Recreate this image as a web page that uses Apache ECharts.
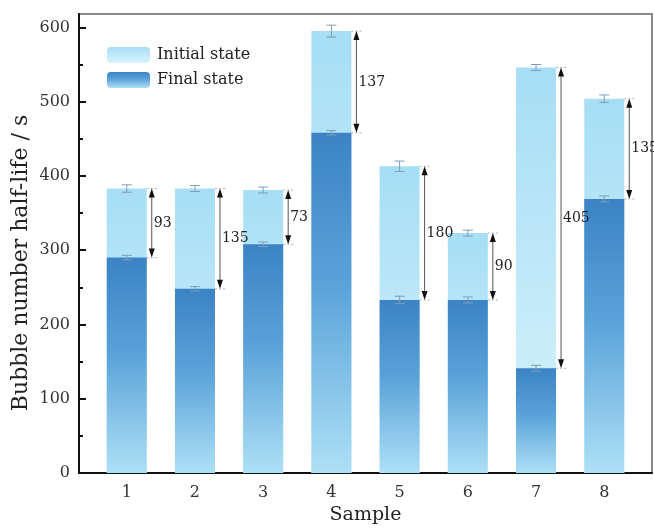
<!DOCTYPE html>
<html>
<head>
<meta charset="utf-8">
<script src="https://cdn.jsdelivr.net/npm/echarts@6/dist/echarts.min.js"></script>
<style>html,body{margin:0;padding:0;background:#fff}#c{width:654px;height:530px}</style>
</head>
<body>
<div id="c"></div>
<script>
var samples = [1, 2, 3, 4, 5, 6, 7, 8];
var initialState = [383, 383, 381, 595, 413, 323, 546, 504];
var finalState = [290, 248, 308, 458, 233, 233, 141, 369];
var initialErr = [5, 4, 4, 8, 7, 4, 4, 5];
var finalErr = [3, 3, 3, 3, 5, 4, 4, 4];
var differences = [93, 135, 73, 137, 180, 90, 405, 135];
var yTicks = [0, 100, 200, 300, 400, 500, 600];
var yMinorTicks = [50, 150, 250, 350, 450, 550];

var FONT = 'DejaVu Serif';
var chart = echarts.init(document.getElementById('c'), null, {renderer: 'canvas'});

var initialColor = new echarts.graphic.LinearGradient(0, 0, 0, 1, [
  {offset: 0, color: '#a6def5'}, {offset: 1, color: '#d8f3fc'}]);
var finalColor = new echarts.graphic.LinearGradient(0, 0, 0, 1, [
  {offset: 0, color: '#3b83c4'}, {offset: 0.45, color: '#5aa3d9'}, {offset: 1, color: '#aee0f6'}]);

function errData(vals, errs) {
  return samples.map(function (s, i) { return [s, vals[i], errs[i]]; });
}
function renderErr(params, api) {
  var x = api.value(0), v = api.value(1), e = api.value(2);
  var top = api.coord([x, v + e]), bot = api.coord([x, v - e]);
  var st = {stroke: '#7f9fb6', lineWidth: 1};
  return {type: 'group', children: [
    {type: 'line', shape: {x1: top[0], y1: top[1], x2: bot[0], y2: bot[1]}, style: st},
    {type: 'line', shape: {x1: top[0] - 5, y1: top[1], x2: top[0] + 5, y2: top[1]}, style: st},
    {type: 'line', shape: {x1: bot[0] - 5, y1: bot[1], x2: bot[0] + 5, y2: bot[1]}, style: st}
  ]};
}
function renderArrow(params, api) {
  var x = api.value(0), lo = api.value(1), hi = api.value(2), lab = api.value(3);
  var pH = api.coord([x, hi]), pL = api.coord([x, lo]);
  var ax = pH[0] + 25;
  var yH = pH[1], yL = pL[1];
  var dash = {stroke: '#b0b0b0', lineWidth: 1, lineDash: [2, 2]};
  return {type: 'group', children: [
    {type: 'line', shape: {x1: pH[0] + 20, y1: yH, x2: ax + 6, y2: yH}, style: dash},
    {type: 'line', shape: {x1: pL[0] + 20, y1: yL, x2: ax + 6, y2: yL}, style: dash},
    {type: 'line', shape: {x1: ax, y1: yH + 6, x2: ax, y2: yL - 6}, style: {stroke: '#555', lineWidth: 1}},
    {type: 'polygon', shape: {points: [[ax, yH], [ax - 3, yH + 9], [ax + 3, yH + 9]]}, style: {fill: '#111'}},
    {type: 'polygon', shape: {points: [[ax, yL], [ax - 3, yL - 9], [ax + 3, yL - 9]]}, style: {fill: '#111'}},
    {type: 'text', style: {text: String(lab), x: ax + 2, y: (yH + yL) / 2, align: 'left', verticalAlign: 'middle',
      font: '14px "' + FONT + '"', fill: '#222'}}
  ]};
}

var option = {
  animation: false,
  backgroundColor: '#fff',
  grid: {left: 79, right: 2, top: 14, bottom: 57, show: true, borderColor: '#8a8a8a', borderWidth: 2, backgroundColor: 'transparent'},
  legend: {
    left: 102, top: 42, orient: 'vertical', itemWidth: 43, itemHeight: 16, itemGap: 9,
    data: ['Initial state', 'Final state'],
    textStyle: {fontFamily: FONT, fontSize: 16, color: '#222', padding: [0, 0, 0, 2], lineHeight: 16}
  },
  xAxis: {
    type: 'value', min: 0.3, max: 8.7,
    name: 'Sample', nameLocation: 'middle', nameGap: 33,
    nameTextStyle: {fontFamily: FONT, fontSize: 19, color: '#222'},
    axisLine: {show: true, onZero: false, lineStyle: {color: '#111', width: 2}},
    axisTick: {show: true, inside: true, length: 6, customValues: samples, lineStyle: {color: '#111', width: 2}},
    axisLabel: {customValues: samples, margin: 12, fontFamily: FONT, fontSize: 16, color: '#333'},
    splitLine: {show: false}
  },
  yAxis: [{
    type: 'value', min: 0, max: 618,
    axisLine: {show: true, lineStyle: {color: '#111', width: 2}},
    axisTick: {show: true, inside: true, length: 7, customValues: yTicks, lineStyle: {color: '#111', width: 2}},
    axisLabel: {customValues: yTicks, margin: 9, fontFamily: FONT, fontSize: 16, color: '#333'},
    splitLine: {show: false}
  }, {
    type: 'value', min: 0, max: 618, position: 'left',
    axisLine: {show: false},
    axisTick: {show: true, inside: true, length: 4, customValues: yMinorTicks, lineStyle: {color: '#111', width: 2}},
    axisLabel: {show: false},
    splitLine: {show: false}
  }],
  graphic: [{
    type: 'text', x: 21, y: 263, rotation: Math.PI / 2,
    style: {text: 'Bubble number half-life / s', font: '22px "' + FONT + '"', fill: '#222', align: 'center', verticalAlign: 'middle'}
  }],
  series: [
    {name: 'Initial state', type: 'bar', barWidth: 40, itemStyle: {color: initialColor},
      data: samples.map(function (s, i) { return [s, initialState[i]]; }), z: 2},
    {name: 'Final state', type: 'bar', barWidth: 40, barGap: '-100%', itemStyle: {color: finalColor},
      data: samples.map(function (s, i) { return [s, finalState[i]]; }), z: 3},
    {type: 'custom', renderItem: renderErr, data: errData(initialState, initialErr), z: 4},
    {type: 'custom', renderItem: renderErr, data: errData(finalState, finalErr), z: 4},
    {type: 'custom', renderItem: renderArrow, z: 5,
      data: samples.map(function (s, i) { return [s, finalState[i], initialState[i], differences[i]]; })}
  ]
};
chart.setOption(option);
</script>
</body>
</html>
